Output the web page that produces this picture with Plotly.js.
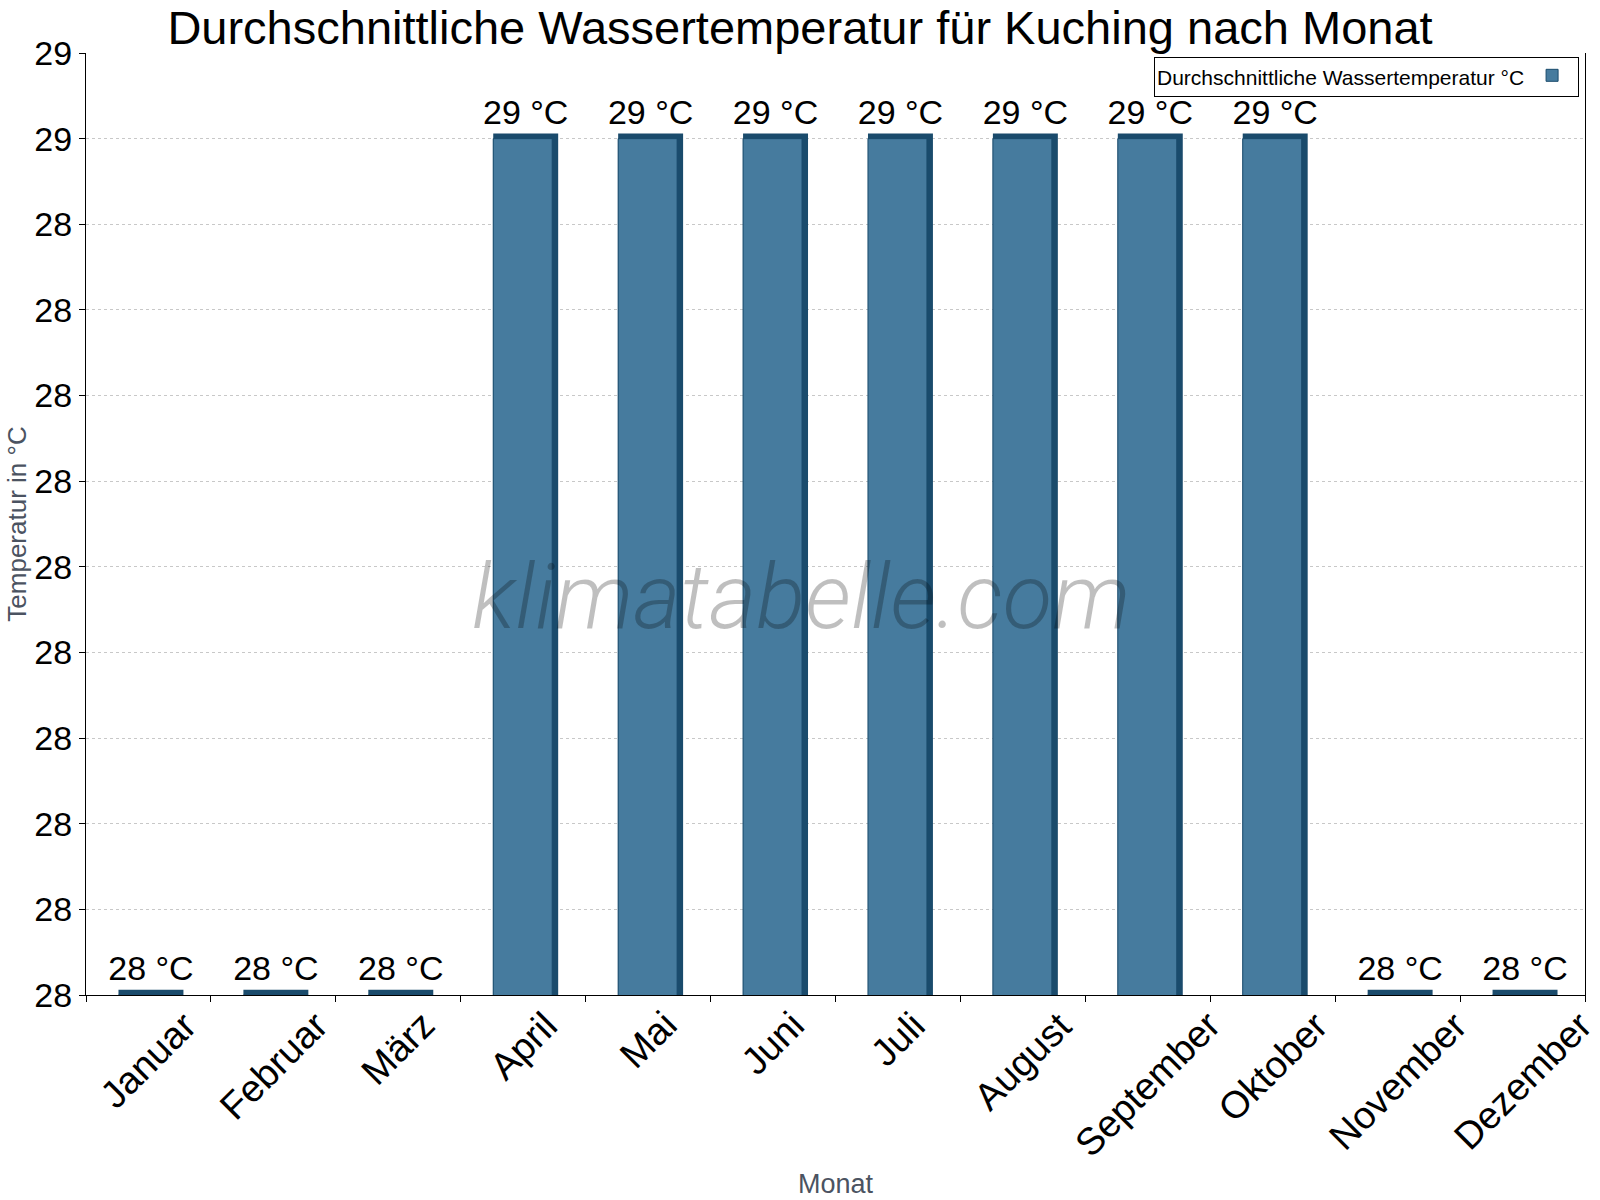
<!DOCTYPE html>
<html>
<head>
<meta charset="utf-8">
<script src="https://cdn.plot.ly/plotly-3.0.1.min.js"></script>
<style>
  html, body { margin: 0; padding: 0; background: #fff; }
  #chart { width: 1600px; height: 1200px; }
</style>
</head>
<body>
<div id="chart"></div>
<script>
// monthly average water temperature, Kuching
const months = ['Januar', 'Februar', 'März', 'April', 'Mai', 'Juni', 'Juli',
  'August', 'September', 'Oktober', 'November', 'Dezember'];
const waterTemp = [28, 28, 28, 29, 29, 29, 29, 29, 29, 29, 28, 28];

// y ticks are printed as whole degrees
const yTickVals = [28.0, 28.1, 28.2, 28.3, 28.4, 28.5, 28.6, 28.7, 28.8, 28.9, 29.0, 29.1];
const yTickText = ['28', '28', '28', '28', '28', '28', '28', '28', '28', '28', '29', '29'];

const FONT = 'Liberation Sans, Arial, sans-serif';
const FRONT = '#467b9e';
const SIDE = '#1a4b6c';
const GREY = '#4b5361';
const depth = 0.006; // fake 3d top face, in degrees

const labels = waterTemp.map(v => v + ' °C');

// dark "box" behind the front face gives the side + top edge
const back = {
  type: 'bar',
  x: months,
  y: waterTemp.map(v => v + depth),
  width: 0.52,
  offset: -0.24,
  marker: { color: SIDE, line: { width: 0 } },
  text: labels,
  texttemplate: '%{text}',
  textposition: 'outside',
  constraintext: 'none',
  cliponaxis: false,
  textfont: { family: FONT, size: 34, color: '#000' },
  showlegend: false,
  hoverinfo: 'skip',
};

const front = {
  type: 'bar',
  name: '',
  x: months,
  y: waterTemp,
  width: 0.472,
  offset: -0.24,
  marker: { color: FRONT, line: { color: SIDE, width: 1 } },
  textposition: 'none',
  hovertemplate: '%{x}: %{y} °C<extra></extra>',
};

// month labels: rotated round their own centre, box top just under the axis
const monthLabels = months.map(m => ({
  text: m,
  x: m,
  xref: 'x',
  y: 0,
  yref: 'paper',
  xanchor: 'center',
  yanchor: 'top',
  yshift: -6,
  textangle: -45,
  showarrow: false,
  font: { family: FONT, size: 38, color: '#000' },
}));

const watermark = {
  text: 'klimatabelle.com',
  xref: 'paper', yref: 'paper',
  x: 0.477, y: 0.423,
  showarrow: false,
  font: { family: 'Roboto, sans-serif', size: 91, color: 'rgba(0,0,0,0.25)', style: 'italic', weight: 300 },
};

const layout = {
  width: 1600,
  height: 1200,
  paper_bgcolor: '#fff',
  plot_bgcolor: '#fff',
  barmode: 'overlay',
  margin: { l: 86, r: 15, t: 53, b: 205 },
  font: { family: FONT, color: '#000' },
  title: {
    text: 'Durchschnittliche Wassertemperatur für Kuching nach Monat',
    font: { family: FONT, size: 47, color: '#000' },
    x: 0.5,
    xref: 'container',
    y: 0.991,
    yref: 'container',
    yanchor: 'top',
  },
  xaxis: {
    type: 'category',
    range: [-0.5, months.length - 0.5],
    autorange: false,
    showline: true,
    linecolor: '#000',
    linewidth: 1,
    ticks: 'outside',
    tickson: 'boundaries',
    ticklen: 6,
    tickcolor: '#000',
    showticklabels: false,
    showgrid: false,
    title: { text: 'Monat', font: { family: FONT, size: 27, color: GREY }, standoff: 179 },
  },
  yaxis: {
    range: [28, 29.1],
    tickvals: yTickVals,
    ticktext: yTickText,
    showline: true,
    mirror: true,
    linecolor: '#000',
    linewidth: 1,
    ticks: 'outside',
    ticklen: 6,
    tickcolor: '#000',
    tickfont: { family: FONT, size: 34, color: '#000' },
    showgrid: true,
    gridcolor: '#c8c8c8',
    griddash: 'dot',
    zeroline: false,
    title: { text: 'Temperatur in °C', font: { family: FONT, size: 26, color: GREY }, standoff: 0 },
  },
  legend: {
    x: 0.996,
    xanchor: 'right',
    y: 0.996,
    yanchor: 'top',
    valign: 'middle',
    bgcolor: '#fff',
    bordercolor: '#000',
    borderwidth: 1,
    font: { family: FONT, size: 17, color: '#000' },
    title: { text: 'Durchschnittliche Wassertemperatur °C', side: 'left', font: { family: FONT, size: 21, color: '#000' } },
    itemwidth: 30,
  },
  showlegend: true,
  annotations: monthLabels.concat([watermark]),
};

Plotly.newPlot('chart', [back, front], layout, { displayModeBar: false, staticPlot: true });
</script>
</body>
</html>
